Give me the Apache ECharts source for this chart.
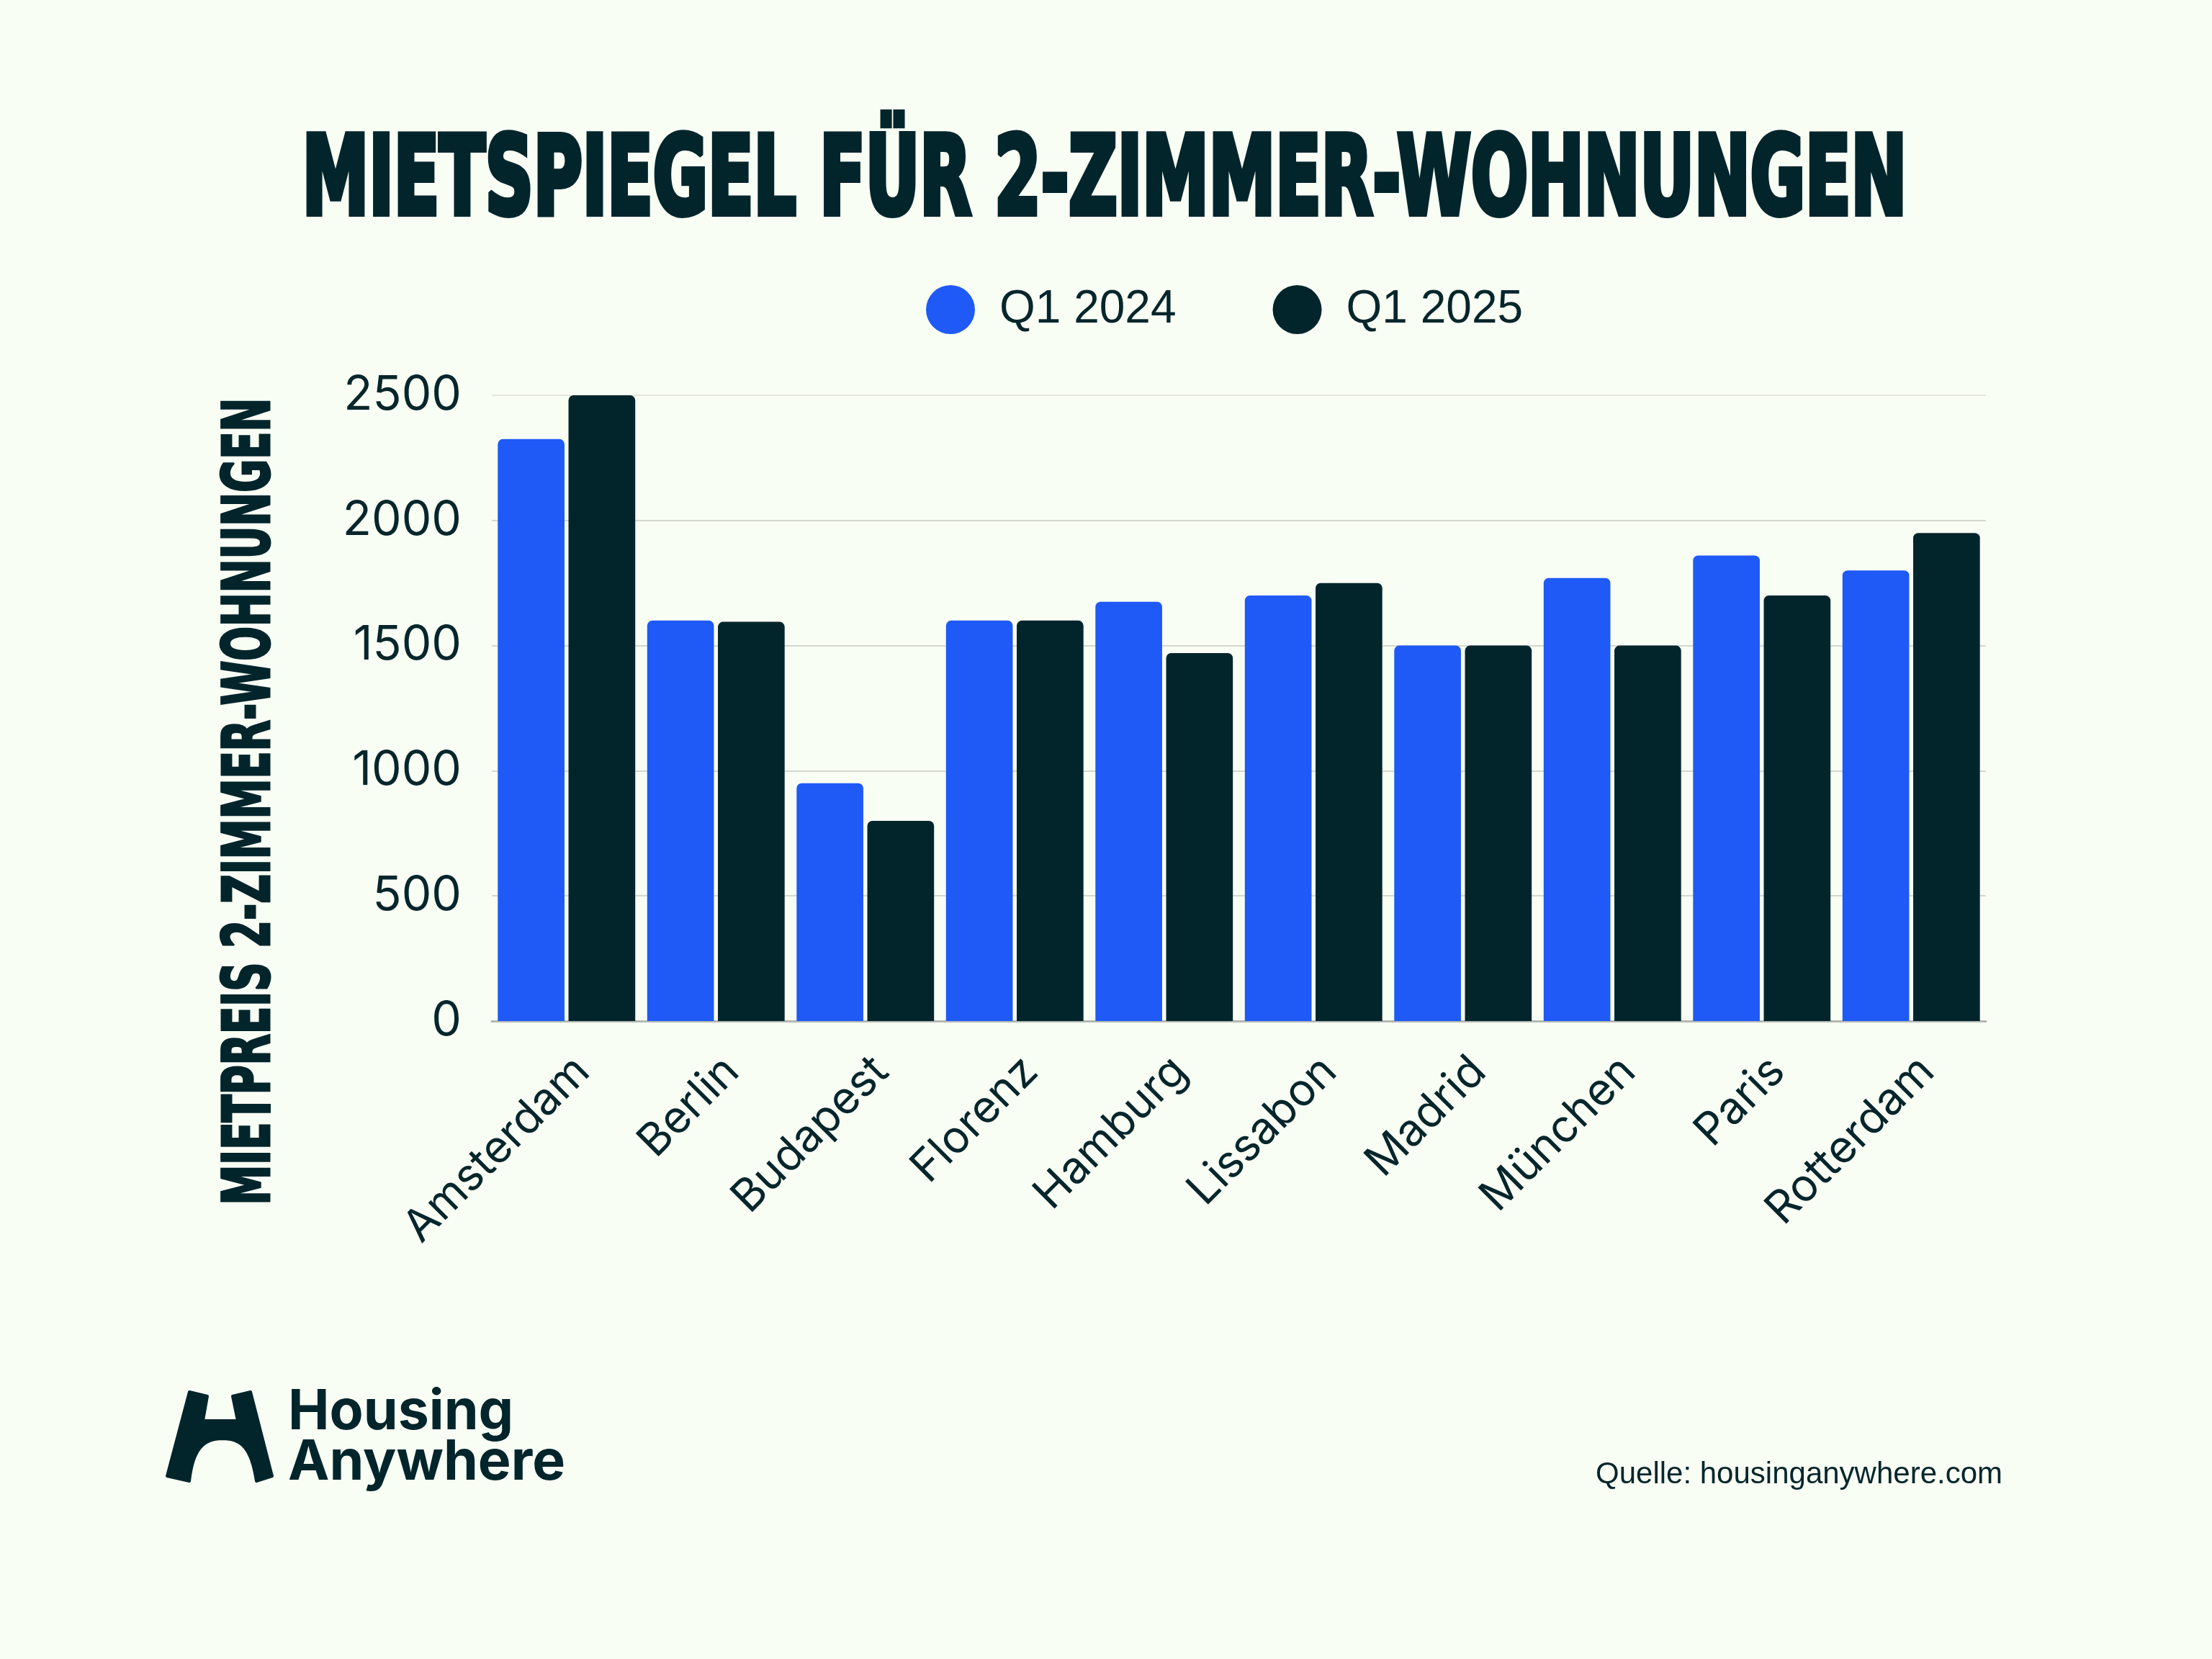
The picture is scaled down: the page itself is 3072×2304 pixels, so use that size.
<!DOCTYPE html>
<html>
<head>
<meta charset="utf-8">
<script src="https://cdn.jsdelivr.net/npm/echarts@6/dist/echarts.min.js"></script>
<style>
html,body{margin:0;padding:0;background:#f9fef4;}
#c{width:3072px;height:2304px;}
</style>
</head>
<body>
<div id="c"></div>
<script>
const titleText = 'MIETSPIEGEL FÜR 2-ZIMMER-WOHNUNGEN';
const yAxisTitle = 'MIETPREIS 2-ZIMMER-WOHNUNGEN';
const sourceText = 'Quelle: housinganywhere.com';
const categories = ['Amsterdam','Berlin','Budapest','Florenz','Hamburg','Lissabon','Madrid','München','Paris','Rotterdam'];
const seriesNames = ['Q1 2024','Q1 2025'];
const q1_2024 = [2325,1600,950,1600,1675,1700,1500,1770,1860,1800];
const q1_2025 = [2500,1595,800,1600,1470,1750,1500,1500,1700,1950];
const yTicks = {min:0, max:2500, interval:500};

const BG = '#f9fef4';
const BLUE = '#1f5af6';
const DARK = '#02252c';
const TEXT = '#06262c';
const condFont = '"Liberation Sans Narrow","DejaVu Sans Condensed",sans-serif';

function measure(text, font){
  const cv = document.createElement('canvas');
  const ctx = cv.getContext('2d');
  ctx.font = font;
  return ctx.measureText(text).width;
}

const titleSize = 152, titleStroke = 8;
const titleW = measure(titleText, 'bold ' + titleSize + 'px ' + condFont) + titleStroke;
const titleScaleX = 2234 / titleW;

const ySize = 90, yStroke = 3;
const yW = measure(yAxisTitle, 'bold ' + ySize + 'px ' + condFont) + yStroke;
const yScaleX = 1123 / yW;

// logo outline (decoration): straight segments + arch sampled from two cubic curves
function cubic(p0,p1,p2,p3,n){
  const out=[];
  for(let i=1;i<=n;i++){
    const t=i/n, u=1-t;
    out.push([u*u*u*p0[0]+3*u*u*t*p1[0]+3*u*t*t*p2[0]+t*t*t*p3[0],
              u*u*u*p0[1]+3*u*u*t*p1[1]+3*u*t*t*p2[1]+t*t*t*p3[1]]);
  }
  return out;
}
const logoPts = [[263,1933],[288,1939],[282,1973],[330,1973],[323,1939],[348,1933],[378,2050],[356,2057]]
  .concat(cubic([356,2057],[349,2012],[336,1998],[309,1998],16))
  .concat(cubic([309,1998],[283,1998],[268,2012],[263,2057],16))
  .concat([[232,2050]]);

const chart = echarts.init(document.getElementById('c'), null, {renderer:'canvas'});

chart.setOption({
  backgroundColor: BG,
  animation: false,
  legend: {
    left: 1281, top: 391,
    icon: 'circle',
    itemWidth: 68, itemHeight: 68,
    itemGap: 134,
    data: seriesNames,
    textStyle: {fontFamily:'"Liberation Sans",sans-serif', fontSize: 64, color: TEXT, padding:[0,0,0,29]}
  },
  grid: {left: 683, right: 314, top: 549, bottom: 886, containLabel: false},
  xAxis: {
    type: 'category',
    data: categories,
    axisTick: {show:false},
    axisLine: {lineStyle: {color:'#b3b8b1', width:3}},
    axisLabel: {rotate:45, margin: 38, verticalAlign:'top', fontSize: 62, color: TEXT, fontFamily:'Inter,sans-serif', interval:0}
  },
  yAxis: {
    type: 'value',
    min: yTicks.min, max: yTicks.max, interval: yTicks.interval,
    axisLine: {show:false},
    axisTick: {show:false},
    axisLabel: {margin: 42, fontSize: 66, color: TEXT, fontFamily:'Inter,sans-serif',
      formatter: function(v){ return String(v); }},
    splitLine: {lineStyle: {color:['#c9cdc6','#d3d7cf','#d3d7cf','#d3d7cf','#d3d7cf','#e3e7de'], width:2}}
  },
  series: [
    {name: seriesNames[0], type:'bar', data:q1_2024, barCategoryGap:'8%', barGap:'6%',
     itemStyle:{color:BLUE, borderRadius:[7,7,0,0]}},
    {name: seriesNames[1], type:'bar', data:q1_2025, barCategoryGap:'8%', barGap:'6%',
     itemStyle:{color:DARK, borderRadius:[7,7,0,0]}}
  ],
  graphic: [
    {type:'text', x:1534, y:258, scaleX:titleScaleX, scaleY:1,
     style:{text:titleText, fontFamily:condFont, fontWeight:'bold', fontSize:titleSize,
       fill:DARK, stroke:DARK, lineWidth:titleStroke, textAlign:'center', textVerticalAlign:'middle'}},
    {type:'text', x:351, y:1113, rotation:Math.PI/2, scaleX:yScaleX, scaleY:1,
     style:{text:yAxisTitle, fontFamily:condFont, fontWeight:'bold', fontSize:ySize,
       fill:DARK, stroke:DARK, lineWidth:yStroke, textAlign:'center', textVerticalAlign:'middle'}},
    {type:'polygon', shape:{points:logoPts},
     style:{fill:DARK, stroke:DARK, lineWidth:4, lineJoin:'round'}},
    {type:'text', x:400, y:1962,
     style:{text:'Housing', fontFamily:'Inter,sans-serif', fontWeight:'bold', fontSize:77, fill:DARK,
       textAlign:'left', textVerticalAlign:'middle'}},
    {type:'text', x:400, y:2032,
     style:{text:'Anywhere', fontFamily:'Inter,sans-serif', fontWeight:'bold', fontSize:77, fill:DARK,
       textAlign:'left', textVerticalAlign:'middle'}},
    {type:'text', x:2781, y:2048,
     style:{text:sourceText, fontFamily:'"Liberation Sans",sans-serif', fontSize:42, fill:TEXT,
       textAlign:'right', textVerticalAlign:'middle'}}
  ]
});
</script>
</body>
</html>
